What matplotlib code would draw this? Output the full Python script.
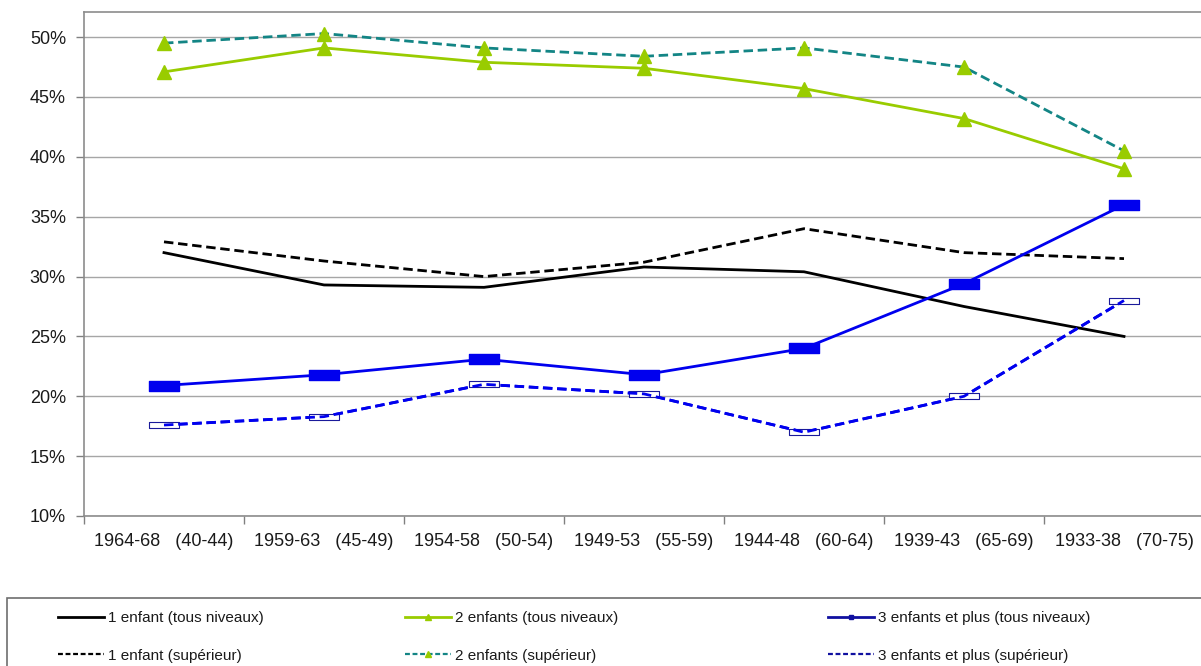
import matplotlib
matplotlib.use("Agg")
import matplotlib.pyplot as plt
from matplotlib.lines import Line2D
from matplotlib.path import Path
from matplotlib.patches import Rectangle
from matplotlib.ticker import FuncFormatter, FixedLocator

plt.rcParams['font.family'] = ['Liberation Sans', 'DejaVu Sans']

categories = ["1964-68   (40-44)", "1959-63   (45-49)", "1954-58   (50-54)",
              "1949-53   (55-59)", "1944-48   (60-64)", "1939-43   (65-69)",
              "1933-38   (70-75)"]

un_tous = [32.0, 29.3, 29.1, 30.8, 30.4, 27.5, 25.0]
un_sup = [32.9, 31.3, 30.0, 31.2, 34.0, 32.0, 31.5]
deux_tous = [47.1, 49.1, 47.9, 47.4, 45.7, 43.2, 39.0]
deux_sup = [49.5, 50.3, 49.1, 48.4, 49.1, 47.5, 40.5]
trois_tous = [20.9, 21.8, 23.1, 21.8, 24.0, 29.4, 36.0]
trois_sup = [17.6, 18.3, 21.0, 20.2, 17.0, 20.0, 28.0]

labels = ["1 enfant (tous niveaux)", "2 enfants (tous niveaux)", "3 enfants et plus (tous niveaux)",
          "1 enfant (supérieur)", "2 enfants (supérieur)", "3 enfants et plus (supérieur)"]

W, H = 1201, 666
fig = plt.figure(figsize=(W / 100, H / 100), dpi=100)
ax = fig.add_axes([84 / W, 1 - 516 / H, 1120 / W, (516 - 12) / H])

x = list(range(len(categories)))
rect_wide = Path([(-1.6, -0.5), (1.6, -0.5), (1.6, 0.5), (-1.6, 0.5), (-1.6, -0.5)],
                 [Path.MOVETO, Path.LINETO, Path.LINETO, Path.LINETO, Path.CLOSEPOLY])
rect_thin = Path([(-2.0, -0.42), (2.0, -0.42), (2.0, 0.42), (-2.0, 0.42), (-2.0, -0.42)],
                 [Path.MOVETO, Path.LINETO, Path.LINETO, Path.LINETO, Path.CLOSEPOLY])

green = '#99CC00'
teal = '#138585'
blue = '#0000EE'
dash = (0, (3.4, 1.7))
lw = 2.0

ax.plot(x, un_tous, color='black', lw=lw, zorder=3)
ax.plot(x, un_sup, color='black', lw=lw, ls=dash, zorder=3)
ax.plot(x, deux_sup, color=teal, lw=lw, ls=dash, marker='^', ms=10,
        mfc=green, mec=green, zorder=3)
ax.plot(x, deux_tous, color=green, lw=lw, marker='^', ms=10,
        mfc=green, mec=green, zorder=4)
ax.plot(x, trois_tous, color=blue, lw=lw, marker=rect_wide, ms=21,
        mfc=blue, mec=blue, zorder=4)
ax.plot(x, trois_sup, color=blue, lw=lw, ls=dash, marker=rect_thin, ms=22,
        mfc='white', mec='#1a1a9a', mew=0.8, zorder=3)
# redraw dashed line over hollow markers
ax.plot(x, trois_sup, color=blue, lw=lw, ls=dash, zorder=3.5)

ax.set_xlim(-0.5, len(categories) - 0.5)
ax.set_ylim(10, 52.1)
ax.set_yticks(range(10, 51, 5))
ax.yaxis.set_major_formatter(FuncFormatter(lambda v, p: f"{int(v)}%"))
ax.set_xticks(x)
ax.set_xticklabels(categories)
ax.xaxis.set_minor_locator(FixedLocator([i - 0.5 for i in range(len(categories) + 1)]))
ax.tick_params(axis='x', which='major', length=0, pad=12, labelsize=13, labelcolor='#1a1a1a')
ax.tick_params(axis='x', which='minor', length=6, width=1, color='#808080', direction='out')
ax.tick_params(axis='y', length=6, width=1, color='#808080', pad=7, labelsize=13,
               labelcolor='#1a1a1a')
ax.grid(axis='y', color='#a6a6a6', lw=1)
ax.set_axisbelow(True)
for s in ['left', 'bottom', 'top']:
    ax.spines[s].set_color('#8c8c8c')
    ax.spines[s].set_linewidth(1.2)
ax.spines['right'].set_visible(False)

# legend frame
fig.patches.append(Rectangle((7 / W, -0.05), 1.1, (1 - 598 / H) + 0.05,
                             transform=fig.transFigure, fill=False,
                             edgecolor='#6e6e6e', lw=1.2))

hl = [
    Line2D([], [], color='black', lw=2),
    Line2D([], [], color=green, lw=2, marker='^', ms=5, mfc=green, mec=green),
    Line2D([], [], color='#1010a0', lw=2, marker='s', ms=3, mfc='#1010a0', mec='#1010a0'),
    Line2D([], [], color='black', lw=1.6, ls=(0, (2.2, 1.2))),
    Line2D([], [], color=teal, lw=1.6, ls=(0, (2.2, 1.2)), marker='^', ms=5, mfc=green, mec=green),
    Line2D([], [], color='#1010a0', lw=1.6, ls=(0, (2.2, 1.2))),
]
col_x = [58, 405, 828]
for c in range(3):
    lg = fig.legend([hl[c], hl[c + 3]], [labels[c], labels[c + 3]],
                    loc='upper left', bbox_to_anchor=(col_x[c] / W, 1 - 611 / H),
                    frameon=False, fontsize=11, handlelength=3.0, handletextpad=0.25,
                    labelspacing=1.55, borderpad=0, borderaxespad=0, labelcolor='#1a1a1a')

fig.savefig("out.png", dpi=100)
